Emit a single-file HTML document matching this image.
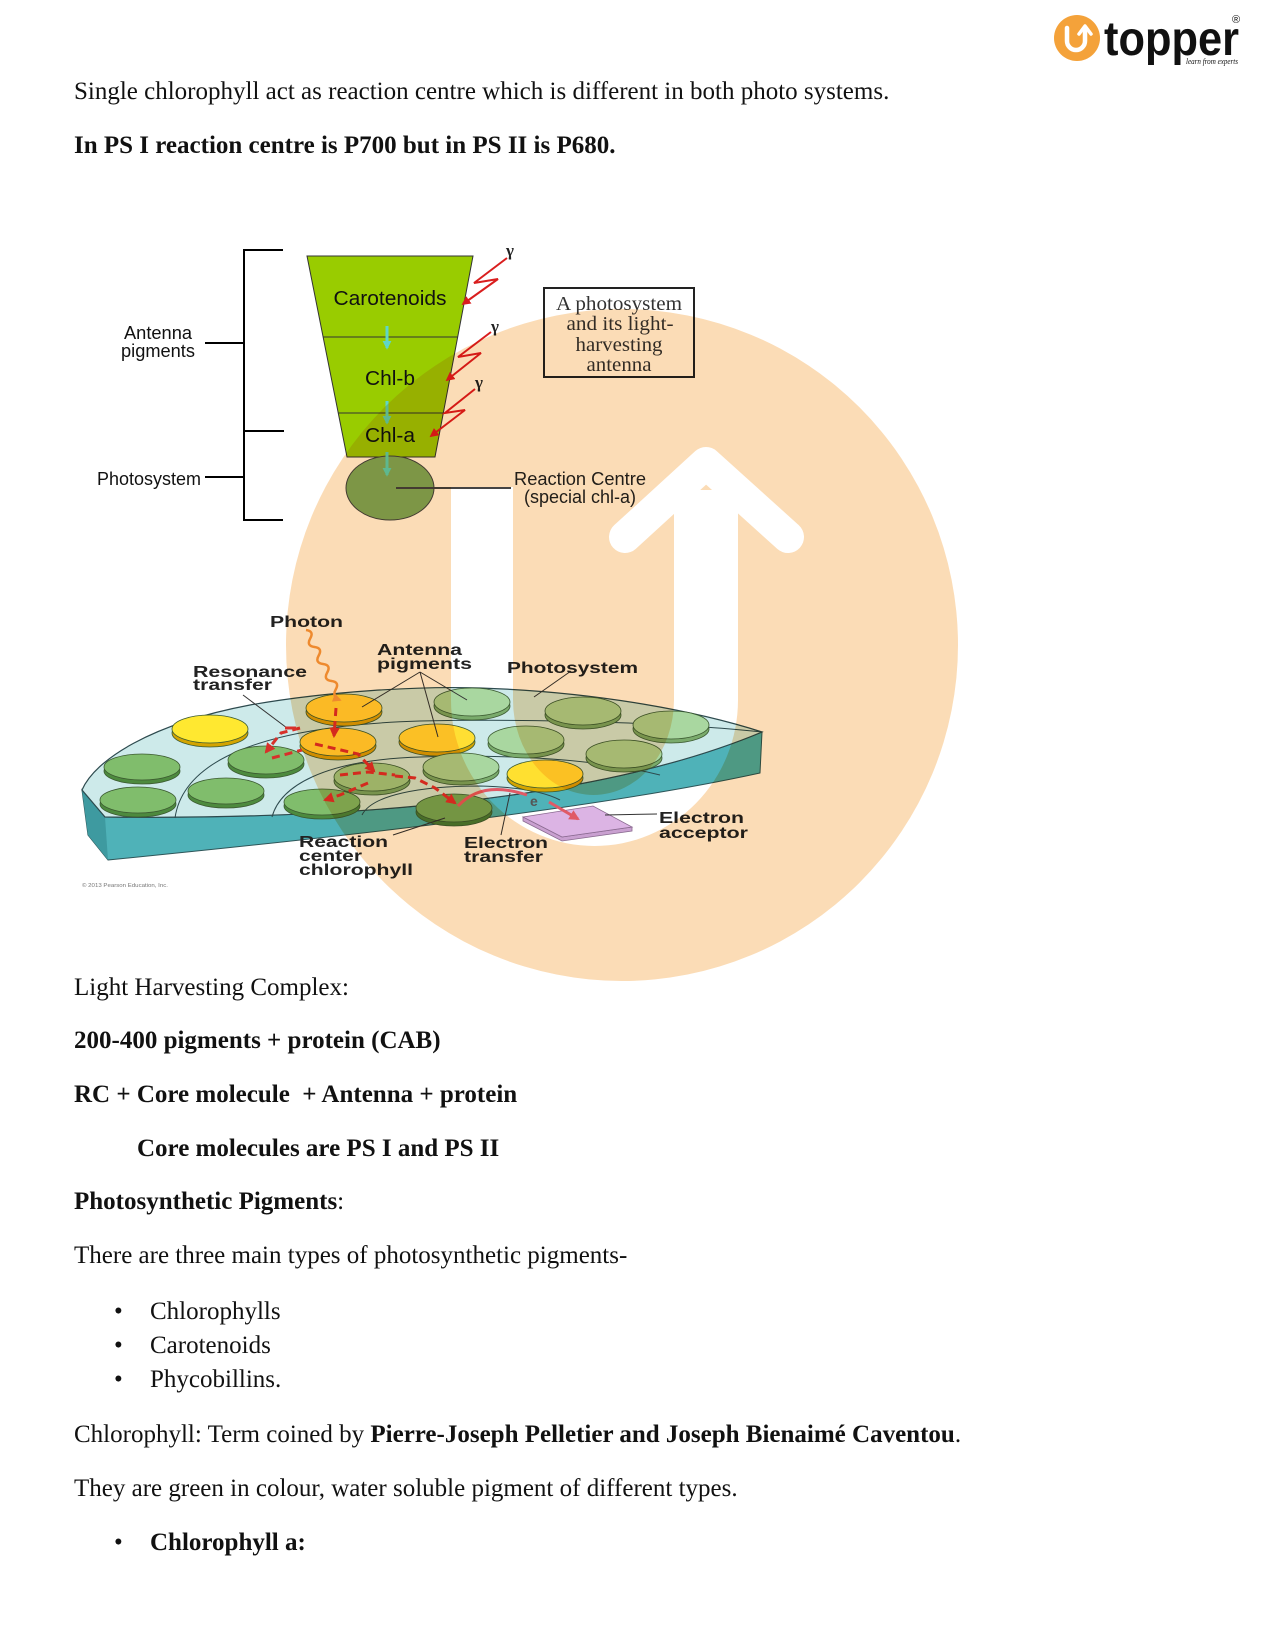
<!DOCTYPE html>
<html>
<head>
<meta charset="utf-8">
<style>
  html,body{margin:0;padding:0;background:#fff;}
  body{width:1275px;height:1650px;position:relative;overflow:hidden;}
  .t{position:absolute;white-space:nowrap;font-family:"Liberation Serif","Times New Roman",serif;font-size:25px;line-height:30px;color:#111;}
  .b{font-weight:bold;}
  svg{position:absolute;left:0;top:0;}
  .sl{font-family:"Liberation Sans",Arial,sans-serif;}
</style>
</head>
<body>

<!-- body text -->
<div class="t" style="left:74px;top:77px;">Single chlorophyll act as reaction centre which is different in both photo systems.</div>
<div class="t b" style="left:74px;top:131px;">In PS I reaction centre is P700 but in PS II is P680.</div>

<div class="t" style="left:74px;top:973px;">Light Harvesting Complex:</div>
<div class="t b" style="left:74px;top:1026px;">200-400 pigments + protein (CAB)</div>
<div class="t b" style="left:74px;top:1080px;">RC + Core molecule&nbsp; + Antenna + protein</div>
<div class="t b" style="left:137px;top:1134px;">Core molecules are PS I and PS II</div>
<div class="t" style="left:74px;top:1187px;"><b>Photosynthetic Pigments</b>:</div>
<div class="t" style="left:74px;top:1241px;">There are three main types of photosynthetic pigments-</div>
<div class="t" style="left:114px;top:1297px;">•</div>
<div class="t" style="left:150px;top:1297px;">Chlorophylls</div>
<div class="t" style="left:114px;top:1331px;">•</div>
<div class="t" style="left:150px;top:1331px;">Carotenoids</div>
<div class="t" style="left:114px;top:1365px;">•</div>
<div class="t" style="left:150px;top:1365px;">Phycobillins.</div>
<div class="t" style="left:74px;top:1420px;">Chlorophyll: Term coined by <b>Pierre-Joseph Pelletier and Joseph Bienaimé Caventou</b>.</div>
<div class="t" style="left:74px;top:1474px;">They are green in colour, water soluble pigment of different types.</div>
<div class="t" style="left:114px;top:1528px;">•</div>
<div class="t b" style="left:150px;top:1528px;">Chlorophyll a:</div>

<!-- diagrams -->
<svg width="1275" height="1650" viewBox="0 0 1275 1650">
  <defs>
    <marker id="mr" viewBox="0 0 10 10" refX="8" refY="5" markerWidth="4.5" markerHeight="4.5" orient="auto"><path d="M0,0 L10,5 L0,10 z" fill="#d91e1e"/></marker>
    <marker id="mc" viewBox="0 0 10 10" refX="8" refY="5" markerWidth="3" markerHeight="3" orient="auto"><path d="M0,0 L10,5 L0,10 z" fill="#5fd6c8"/></marker>
    <marker id="md" viewBox="0 0 10 10" refX="8" refY="5" markerWidth="3.5" markerHeight="3.5" orient="auto"><path d="M0,0 L10,5 L0,10 z" fill="#d8302a"/></marker>
    <marker id="mp" viewBox="0 0 10 10" refX="8" refY="5" markerWidth="3.5" markerHeight="3.5" orient="auto"><path d="M0,0 L10,5 L0,10 z" fill="#e05a66"/></marker>
    <marker id="mo" viewBox="0 0 10 10" refX="8" refY="5" markerWidth="3.5" markerHeight="3.5" orient="auto"><path d="M0,0 L10,5 L0,10 z" fill="#f2a040"/></marker>
  </defs>

  <!-- ===== Top diagram ===== -->
  <g stroke="#000" stroke-width="2" fill="none">
    <line x1="244" y1="249" x2="244" y2="521"/>
    <line x1="243" y1="250" x2="283" y2="250"/>
    <line x1="205" y1="343" x2="244" y2="343"/>
    <line x1="243" y1="431" x2="284" y2="431"/>
    <line x1="205" y1="477" x2="244" y2="477"/>
    <line x1="243" y1="520" x2="283" y2="520"/>
  </g>
  <g class="sl" font-family="Liberation Sans, Arial, sans-serif" font-size="18" fill="#111">
    <text x="124" y="339" textLength="68" lengthAdjust="spacingAndGlyphs">Antenna</text>
    <text x="121" y="357" textLength="74" lengthAdjust="spacingAndGlyphs">pigments</text>
    <text x="97" y="485" textLength="104" lengthAdjust="spacingAndGlyphs">Photosystem</text>
  </g>

  <polygon points="307,256 473,256 435,457 347,457" fill="#99cc00" stroke="#333" stroke-width="1"/>
  <line x1="323" y1="337" x2="458" y2="337" stroke="#333" stroke-width="1"/>
  <line x1="338" y1="413" x2="443" y2="413" stroke="#333" stroke-width="1"/>
  <g font-family="Liberation Sans, Arial, sans-serif" font-size="20" fill="#111" text-anchor="middle">
    <text x="390" y="305" textLength="113" lengthAdjust="spacingAndGlyphs">Carotenoids</text>
    <text x="390" y="385" textLength="50" lengthAdjust="spacingAndGlyphs">Chl-b</text>
    <text x="390" y="442" textLength="50" lengthAdjust="spacingAndGlyphs">Chl-a</text>
  </g>
  <g stroke="#5fd6c8" stroke-width="3" fill="none">
    <line x1="387" y1="326" x2="387" y2="348" marker-end="url(#mc)"/>
    <line x1="387" y1="401" x2="387" y2="423" marker-end="url(#mc)"/>
  </g>
  <ellipse cx="390" cy="488" rx="44" ry="32" fill="#7fae62" stroke="#444" stroke-width="1"/>
  <line x1="387" y1="452" x2="387" y2="475" stroke="#5fd6c8" stroke-width="3" marker-end="url(#mc)"/>
  <line x1="396" y1="488" x2="511" y2="488" stroke="#444" stroke-width="2"/>
  <g font-family="Liberation Sans, Arial, sans-serif" font-size="18" fill="#222">
    <text x="514" y="485" textLength="132" lengthAdjust="spacingAndGlyphs">Reaction Centre</text>
    <text x="524" y="503" textLength="112" lengthAdjust="spacingAndGlyphs">(special chl-a)</text>
  </g>

  <rect x="544" y="288" width="150" height="89" fill="none" stroke="#222" stroke-width="2"/>
  <g font-family="Liberation Serif, serif" font-size="20" fill="#333" text-anchor="middle">
    <text x="619" y="310" textLength="126" lengthAdjust="spacingAndGlyphs">A photosystem</text>
    <text x="620" y="330" textLength="107" lengthAdjust="spacingAndGlyphs">and its light-</text>
    <text x="619" y="351" textLength="87" lengthAdjust="spacingAndGlyphs">harvesting</text>
    <text x="619" y="371" textLength="65" lengthAdjust="spacingAndGlyphs">antenna</text>
  </g>

  <g stroke="#d91e1e" stroke-width="2" fill="none" stroke-linejoin="miter">
    <polyline points="507,258 474,283 498,279 463,304" marker-end="url(#mr)"/>
    <polyline points="491,332 458,357 481,353 447,380" marker-end="url(#mr)"/>
    <polyline points="475,389 445,413 465,410 431,436" marker-end="url(#mr)"/>
  </g>
  <g font-family="Liberation Serif, serif" font-size="17" font-weight="bold" fill="#222">
    <text x="506" y="256">γ</text>
    <text x="491" y="332">γ</text>
    <text x="475" y="388">γ</text>
  </g>

  <!-- ===== Lower diagram ===== -->
  <!-- front face -->
  <path d="M82,790 L105,817 C350,820 600,800 762,732 L760,773 C600,808 350,836 108,860 L88,835 Z" fill="#4fb2b8" stroke="#2d5558" stroke-width="1"/>
  <path d="M82,790 L105,817 L108,860 L88,835 Z" fill="#3e9aa0"/>
  <!-- top face -->
  <path d="M82,790 C95,760 150,724 250,705 C330,691 420,686 480,688 C600,692 700,712 762,732 C600,800 350,820 105,817 Z" fill="#cdeaea" stroke="#2d4a4e" stroke-width="1.2"/>
  <!-- ring lines -->
  <g stroke="#2d4a4e" stroke-width="1" fill="none">
    <path d="M175,818 C183,762 258,726 420,721 C560,718 700,725 762,732"/>
    <path d="M272,817 C280,787 322,760 420,757 C520,754 600,760 660,775"/>
    <path d="M362,815 C372,795 420,786 480,786 C520,787 545,792 560,800"/>
  </g>

  <!-- disks (back to front) -->
  <g stroke="#3b5a30" stroke-width="0.8">
    <ellipse cx="472" cy="706" rx="38" ry="14" fill="#7aab6c"/>
    <ellipse cx="472" cy="702" rx="38" ry="14" fill="#a9d7a0"/>
    <ellipse cx="344" cy="712" rx="38" ry="14" fill="#d4a400"/>
    <ellipse cx="344" cy="708" rx="38" ry="14" fill="#ffd833"/>
    <ellipse cx="583" cy="715" rx="38" ry="14" fill="#7aab6c"/>
    <ellipse cx="583" cy="711" rx="38" ry="14" fill="#a9d7a0"/>
    <ellipse cx="671" cy="729" rx="38" ry="14" fill="#7aab6c"/>
    <ellipse cx="671" cy="725" rx="38" ry="14" fill="#a9d7a0"/>
    <ellipse cx="210" cy="733" rx="38" ry="14" fill="#d4a400"/>
    <ellipse cx="210" cy="729" rx="38" ry="14" fill="#ffe830"/>
    <ellipse cx="437" cy="742" rx="38" ry="14" fill="#d4a400"/>
    <ellipse cx="437" cy="738" rx="38" ry="14" fill="#ffdf33"/>
    <ellipse cx="526" cy="744" rx="38" ry="14" fill="#7aab6c"/>
    <ellipse cx="526" cy="740" rx="38" ry="14" fill="#a9d7a0"/>
    <ellipse cx="338" cy="746" rx="38" ry="14" fill="#d4a400"/>
    <ellipse cx="338" cy="742" rx="38" ry="14" fill="#ffd833"/>
    <ellipse cx="624" cy="758" rx="38" ry="14" fill="#7aab6c"/>
    <ellipse cx="624" cy="754" rx="38" ry="14" fill="#a9d7a0"/>
    <ellipse cx="266" cy="764" rx="38" ry="14" fill="#4d8a3e"/>
    <ellipse cx="266" cy="760" rx="38" ry="14" fill="#80bd6c"/>
    <ellipse cx="142" cy="771" rx="38" ry="13" fill="#4d8a3e"/>
    <ellipse cx="142" cy="767" rx="38" ry="13" fill="#80bd6c"/>
    <ellipse cx="461" cy="771" rx="38" ry="14" fill="#7aab6c"/>
    <ellipse cx="461" cy="767" rx="38" ry="14" fill="#a9d7a0"/>
    <ellipse cx="545" cy="778" rx="38" ry="14" fill="#d4a400"/>
    <ellipse cx="545" cy="774" rx="38" ry="14" fill="#ffe030"/>
    <ellipse cx="372" cy="781" rx="38" ry="14" fill="#7aab6c"/>
    <ellipse cx="372" cy="777" rx="38" ry="14" fill="#a0cf90"/>
    <ellipse cx="226" cy="795" rx="38" ry="13" fill="#4d8a3e"/>
    <ellipse cx="226" cy="791" rx="38" ry="13" fill="#80bd6c"/>
    <ellipse cx="138" cy="804" rx="38" ry="13" fill="#4d8a3e"/>
    <ellipse cx="138" cy="800" rx="38" ry="13" fill="#80bd6c"/>
    <ellipse cx="322" cy="806" rx="38" ry="13" fill="#4d8a3e"/>
    <ellipse cx="322" cy="802" rx="38" ry="13" fill="#80bd6c"/>
    <ellipse cx="454" cy="812" rx="38" ry="14" fill="#4a8038"/>
    <ellipse cx="454" cy="808" rx="38" ry="14" fill="#76ad5e"/>
  </g>

  <!-- electron acceptor -->
  <polygon points="523,817 562,837 632,827 632,831 562,841 523,821" fill="#c9a0d0" stroke="#8a6a90" stroke-width="0.8"/>
  <polygon points="523,817 593,806 632,827 562,837" fill="#dcb4e4" stroke="#8a6a90" stroke-width="0.8"/>

  <!-- photon -->
  <path d="M306,630 Q314.4,631.1 310.2,638.5 Q306.1,645.8 314.5,647 Q322.9,648.1 318.7,655.5 Q314.6,662.8 323,664 Q331.4,665.1 327.2,672.5 Q323.1,679.8 331.5,681 Q339.9,682.1 335.7,689.5 Q331.6,696.8 340,700" fill="none" stroke="#f2a040" stroke-width="2.5" marker-end="url(#mo)"/>

  <!-- red dashed transfers -->
  <g stroke="#d8302a" stroke-width="3" fill="none" stroke-dasharray="8 5">
    <path d="M336,708 L334,736" marker-end="url(#md)"/>
    <path d="M300,728 L281,733 L266,752" marker-end="url(#md)"/>
    <path d="M272,758 L302,750"/>
    <path d="M315,744 L358,754 L374,771" marker-end="url(#md)"/>
    <path d="M340,775 L368,772 L395,775"/>
    <path d="M368,783 L340,795 L325,800" marker-end="url(#md)"/>
    <path d="M395,776 L415,778 L435,788 L455,803" marker-end="url(#md)"/>
  </g>

  <!-- electron transfer -->
  <path d="M458,806 Q482,780 527,795" fill="none" stroke="#e05a66" stroke-width="3"/>
  <text x="530" y="806" font-family="Liberation Sans, Arial, sans-serif" font-size="14" font-weight="bold" fill="#555">e</text>
  <path d="M549,802 L578,819" fill="none" stroke="#e05a66" stroke-width="3" marker-end="url(#mp)"/>

  <!-- leader lines -->
  <g stroke="#333" stroke-width="1" fill="none">
    <line x1="243" y1="695" x2="287" y2="728"/>
    <line x1="420" y1="672" x2="362" y2="707"/>
    <line x1="420" y1="672" x2="438" y2="737"/>
    <line x1="420" y1="672" x2="467" y2="700"/>
    <line x1="571" y1="671" x2="534" y2="697"/>
    <line x1="393" y1="835" x2="445" y2="818"/>
    <line x1="501" y1="835" x2="510" y2="793"/>
    <line x1="657" y1="814" x2="605" y2="815"/>
  </g>
  <path d="M285,728 L296,728" stroke="#d8302a" stroke-width="3"/>

  <!-- lower labels -->
  <g font-family="Liberation Sans, Arial, sans-serif" font-size="16" font-weight="bold" fill="#222">
    <text x="270" y="627" textLength="73" lengthAdjust="spacingAndGlyphs">Photon</text>
    <text x="377" y="655" textLength="85" lengthAdjust="spacingAndGlyphs">Antenna</text>
    <text x="377" y="669" textLength="95" lengthAdjust="spacingAndGlyphs">pigments</text>
    <text x="507" y="673" textLength="131" lengthAdjust="spacingAndGlyphs">Photosystem</text>
    <text x="193" y="677" textLength="114" lengthAdjust="spacingAndGlyphs">Resonance</text>
    <text x="193" y="690" textLength="79" lengthAdjust="spacingAndGlyphs">transfer</text>
    <text x="299" y="847" textLength="89" lengthAdjust="spacingAndGlyphs">Reaction</text>
    <text x="299" y="861" textLength="63" lengthAdjust="spacingAndGlyphs">center</text>
    <text x="299" y="875" textLength="114" lengthAdjust="spacingAndGlyphs">chlorophyll</text>
    <text x="464" y="848" textLength="84" lengthAdjust="spacingAndGlyphs">Electron</text>
    <text x="464" y="862" textLength="79" lengthAdjust="spacingAndGlyphs">transfer</text>
    <text x="659" y="823" textLength="85" lengthAdjust="spacingAndGlyphs">Electron</text>
    <text x="659" y="838" textLength="89" lengthAdjust="spacingAndGlyphs">acceptor</text>
  </g>
  <text x="82" y="887" font-family="Liberation Sans, Arial, sans-serif" font-size="5" fill="#777" textLength="86" lengthAdjust="spacingAndGlyphs">© 2013 Pearson Education, Inc.</text>
</svg>

<!-- watermark (multiplied over) -->
<svg width="1275" height="1650" viewBox="0 0 1275 1650" style="mix-blend-mode:multiply;">
  <circle cx="622" cy="645" r="336" fill="#fbdcb6"/>
  <path d="M451,487 H513 V700 A80.5,95 0 0 0 674,700 V490 H738 V700 A143.5,146 0 0 1 451,700 Z" fill="#fff"/>
  <polyline points="625,537 706,463 788,537" fill="none" stroke="#fff" stroke-width="32" stroke-linecap="round" stroke-linejoin="round"/>
</svg>

<!-- logo -->
<svg width="1275" height="100" viewBox="0 0 1275 100">
  <circle cx="1077" cy="38" r="23" fill="#f4a23a"/>
  <path d="M1067,28 V41 A9,9 0 0 0 1085,41 V30" fill="none" stroke="#fff" stroke-width="4.5" stroke-linecap="round"/>
  <path d="M1079,34 L1085,26 L1091,34" fill="none" stroke="#fff" stroke-width="3.5" stroke-linecap="round" stroke-linejoin="round"/>
  <text x="1104" y="55" font-family="Liberation Sans, Arial, sans-serif" font-size="48" font-weight="bold" fill="#111" textLength="135" lengthAdjust="spacingAndGlyphs">topper</text>
  <text x="1232" y="23" font-family="Liberation Sans, Arial, sans-serif" font-size="11" fill="#111">®</text>
  <text x="1186" y="64" font-family="Liberation Serif, serif" font-style="italic" font-size="8" fill="#111" textLength="52" lengthAdjust="spacingAndGlyphs">learn from experts</text>
</svg>

</body>
</html>
